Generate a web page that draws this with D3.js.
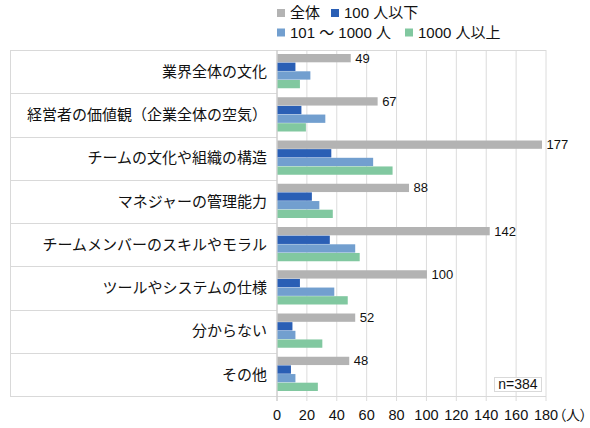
<!DOCTYPE html>
<html>
<head>
<meta charset="utf-8">
<script src="https://cdn.jsdelivr.net/npm/d3@7"></script>
<style>
  body { margin: 0; background: #fff; }
  svg { font-family: "Liberation Sans", "Noto Sans CJK JP", sans-serif; }
</style>
</head>
<body>
<div id="chart"></div>
<script>
// categories and series
var categories = ['業界全体の文化', '経営者の価値観（企業全体の空気）', 'チームの文化や組織の構造',
  'マネジャーの管理能力', 'チームメンバーのスキルやモラル', 'ツールやシステムの仕様', '分からない', 'その他'];
var seriesNames = ['全体', '100 人以下', '101 〜 1000 人', '1000 人以上'];
var totalVals = [49, 67, 177, 88, 142, 100, 52, 48];
var smallVals = [12, 16, 36, 23, 35, 15, 10, 9];
var midVals = [22, 32, 64, 28, 52, 38, 12, 12];
var largeVals = [15, 19, 77, 37, 55, 47, 30, 27];
var xTicks = [0, 20, 40, 60, 80, 100, 120, 140, 160, 180];
var sampleNote = 'n=384';

var colors = ['#b3b3b3', '#2a5fb5', '#729fcf', '#81c8a0'];
var width = 590, height = 428;
var plotLeft = 277, plotRight = 546, plotTop = 50, plotBottom = 396, labelLeft = 10;

var allSeries = [totalVals, smallVals, midVals, largeVals];

var svg = d3.select('#chart').append('svg')
  .attr('width', width)
  .attr('height', height);

var x = d3.scaleLinear().domain([0, 180]).range([plotLeft, plotRight]);
var y = d3.scaleBand().domain(categories).range([plotTop, plotBottom]).paddingInner(0).paddingOuter(0);
var inner = d3.scaleBand().domain(d3.range(4)).range([4, y.bandwidth() - 5]).paddingInner(0.04);

// vertical gridlines
svg.append('g').selectAll('line')
  .data(xTicks)
  .enter()
  .append('line')
  .attr('x1', function(d) { return x(d); })
  .attr('x2', function(d) { return x(d); })
  .attr('y1', plotTop)
  .attr('y2', plotBottom + 5)
  .attr('stroke', '#dcdcdc')
  .attr('stroke-width', 1);

// label table lines
var bounds = categories.map(function(c) { return y(c); }).concat([plotBottom]);
svg.append('g').selectAll('line')
  .data(bounds)
  .enter()
  .append('line')
  .attr('x1', labelLeft)
  .attr('x2', function(d, i) { return (i == 0 || i == bounds.length - 1) ? plotRight : plotLeft; })
  .attr('y1', function(d) { return Math.round(d) + 0.5; })
  .attr('y2', function(d) { return Math.round(d) + 0.5; })
  .attr('stroke', '#d9d9d9');

svg.append('line')
  .attr('x1', labelLeft + 0.5).attr('x2', labelLeft + 0.5)
  .attr('y1', plotTop).attr('y2', plotBottom)
  .attr('stroke', '#d9d9d9');

svg.append('line')
  .attr('x1', plotLeft).attr('x2', plotLeft)
  .attr('y1', plotTop).attr('y2', plotBottom + 5)
  .attr('stroke', '#c8c8c8');

// category labels
svg.append('g').selectAll('text')
  .data(categories)
  .enter()
  .append('text')
  .attr('x', plotLeft - 10)
  .attr('y', function(d) { return y(d) + y.bandwidth() / 2; })
  .attr('dy', '0.35em')
  .attr('text-anchor', 'end')
  .attr('font-size', 15)
  .attr('fill', '#111')
  .text(function(d) { return d; });

// bars
var groups = svg.append('g').selectAll('g')
  .data(categories)
  .enter()
  .append('g')
  .attr('transform', function(d) { return 'translate(0,' + y(d) + ')'; });

groups.selectAll('rect')
  .data(function(d, i) { return allSeries.map(function(s, k) { return {k: k, v: s[i]}; }); })
  .enter()
  .append('rect')
  .attr('x', x(0) + 0.5)
  .attr('y', function(d) { return inner(d.k); })
  .attr('height', inner.bandwidth())
  .attr('width', function(d) { return x(d.v) - x(0); })
  .attr('fill', function(d) { return colors[d.k]; });

// value labels for total
svg.append('g').selectAll('text')
  .data(categories)
  .enter()
  .append('text')
  .attr('x', function(d, i) { return x(totalVals[i]) + 5; })
  .attr('y', function(d) { return y(d) + inner(0) + inner.bandwidth() / 2; })
  .attr('dy', '0.35em')
  .attr('font-size', 13)
  .attr('fill', '#111')
  .text(function(d, i) { return totalVals[i]; });

// x tick labels
svg.append('g').selectAll('text')
  .data(xTicks)
  .enter()
  .append('text')
  .attr('x', function(d) { return x(d); })
  .attr('y', 420)
  .attr('text-anchor', 'middle')
  .attr('font-size', 14.5)
  .attr('fill', '#111')
  .text(function(d) { return d; });

// unit label, proportional brackets so it sits tight after 180
svg.append('text')
  .attr('x', x(180) + 13)
  .attr('y', 420)
  .attr('font-size', 14)
  .attr('fill', '#111')
  .style('font-family', '"Noto Sans CJK JP", sans-serif')
  .style('font-feature-settings', '"palt"')
  .text('（人）');

// n note
var noteG = svg.append('g');
noteG.append('rect')
  .attr('x', 494.5).attr('y', 377.5)
  .attr('width', 47).attr('height', 14)
  .attr('fill', '#fff')
  .attr('stroke', '#d9d9d9');
noteG.append('text')
  .attr('x', 518).attr('y', 384.5)
  .attr('dy', '0.35em')
  .attr('text-anchor', 'middle')
  .attr('font-size', 14)
  .attr('fill', '#111')
  .text(sampleNote);

// legend
var legendPos = [[277, 13], [331, 13], [277, 32.5], [405, 32.5]];
var legend = svg.append('g').selectAll('g')
  .data(seriesNames)
  .enter()
  .append('g')
  .attr('transform', function(d, i) { return 'translate(' + legendPos[i][0] + ',' + legendPos[i][1] + ')'; });

legend.append('rect')
  .attr('x', 0).attr('y', -4)
  .attr('width', 8).attr('height', 8)
  .attr('fill', function(d, i) { return colors[i]; });

legend.append('text')
  .attr('x', 13)
  .attr('y', 0)
  .attr('dy', '0.35em')
  .attr('font-size', 15)
  .attr('fill', '#111')
  .text(function(d) { return d; });
</script>
</body>
</html>
